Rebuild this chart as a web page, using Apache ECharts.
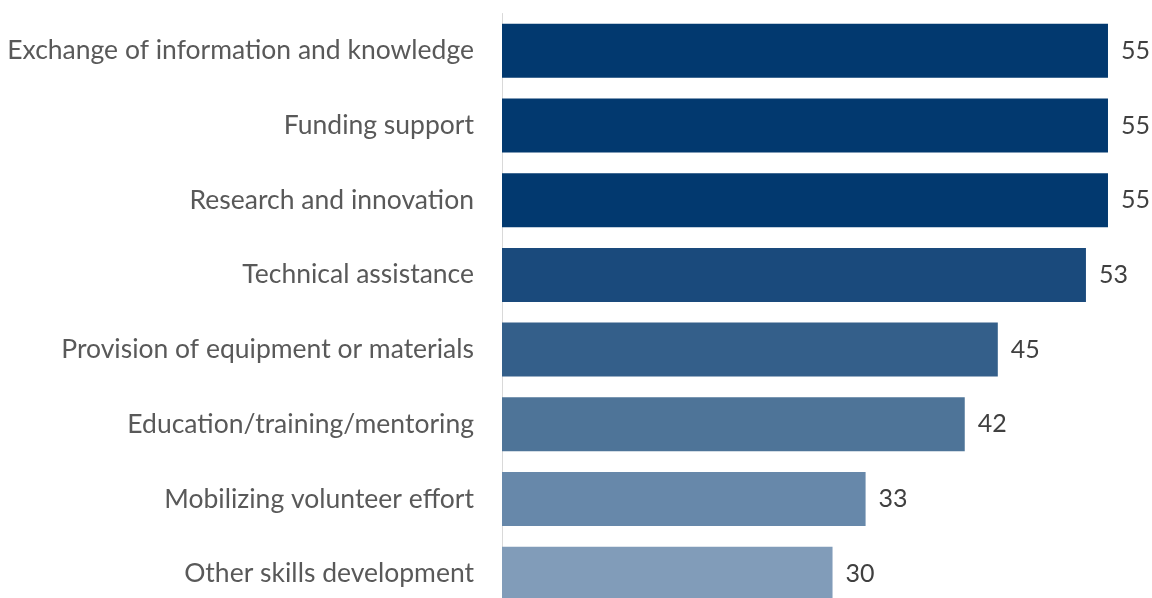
<!DOCTYPE html>
<html>
<head>
<meta charset="utf-8">
<script src="https://cdn.jsdelivr.net/npm/echarts@6/dist/echarts.min.js"></script>
<style>
html,body{margin:0;padding:0;background:#fff;}
#chart{width:1152px;height:598px;}
</style>
</head>
<body>
<div id="chart"></div>
<script>
const categories = [
  "Exchange of information and knowledge",
  "Funding support",
  "Research and innovation",
  "Technical assistance",
  "Provision of equipment or materials",
  "Education/training/mentoring",
  "Mobilizing volunteer effort",
  "Other skills development"
];
const values = [55, 55, 55, 53, 45, 42, 33, 30];
const barColors = ["#02396f", "#02396f", "#02396f", "#1a4a7c", "#345f8a", "#4e7498", "#6788aa", "#819cb9"];

const chart = echarts.init(document.getElementById('chart'), null, {renderer: 'canvas'});
chart.setOption({
  animation: false,
  backgroundColor: '#ffffff',
  grid: {left: 502, right: 33, top: 13.5, bottom: -13, containLabel: false, outerBoundsMode: 'none'},
  xAxis: {
    type: 'value', min: 0, max: 56, show: false,
    splitLine: {show: false}
  },
  yAxis: {
    type: 'category', inverse: true, data: categories,
    axisLine: {show: true, lineStyle: {color: '#d9d9d9', width: 1}},
    axisTick: {show: false},
    axisLabel: {color: '#595959', fontFamily: 'Lato', fontSize: 26.5, margin: 28}
  },
  series: [{
    type: 'bar',
    data: values.map((v, i) => ({value: v, itemStyle: {color: barColors[i]}})),
    barCategoryGap: '27.7%',
    label: {show: true, position: 'right', distance: 13, color: '#404040', fontFamily: 'Lato', fontSize: 25}
  }]
});
</script>
</body>
</html>
